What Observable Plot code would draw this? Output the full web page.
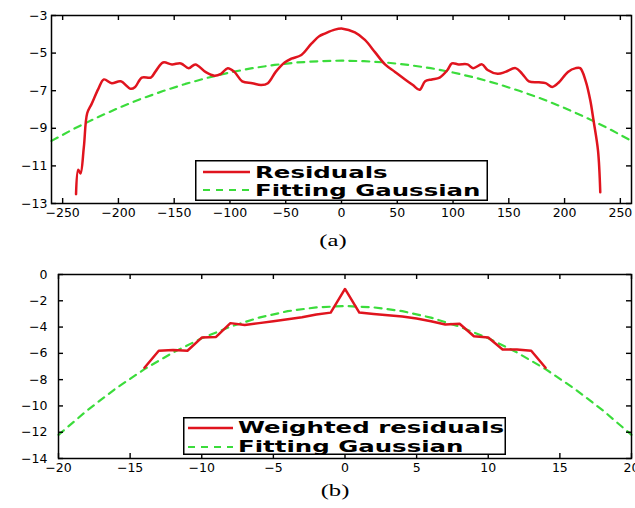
<!DOCTYPE html>
<html><head><meta charset="utf-8">
<script src="https://cdn.jsdelivr.net/npm/d3@7"></script>
<script src="https://cdn.jsdelivr.net/npm/@observablehq/plot@0.6"></script>
<style>
body{margin:0;background:#fff;}
#wrap{position:relative;width:635px;height:508px;overflow:hidden;background:#fff;}
.panel{position:absolute;left:0;}
.ov{position:absolute;}
</style></head>
<body><div id="wrap"></div>
<script>
// ---- Panel (a) data ----
const resX = [-238,-236,-234,-231,-228,-224,-218,-213,-206,-198,-189,-185,-179,-171,-167,-160,-152,-144,-137,-131,-122,-114,-108,-102,-96,-89,-80,-72,-66,-59,-51,-45,-36,-27,-20,-15,-6,1,12,21,30,39,48,57,64,70,75,81,88,95,99,105,113,118,126,131,140,147,156,162,168,177,183,189,195,203,210,214,219,223,226,230,232];
const resY = [-12.5,-11.2,-11.4,-10.0,-8.2,-7.7,-6.9,-6.4,-6.6,-6.5,-6.9,-6.8,-6.3,-6.3,-6.0,-5.5,-5.6,-5.55,-5.8,-5.6,-6.0,-6.2,-6.1,-5.8,-6.0,-6.5,-6.6,-6.7,-6.6,-6.0,-5.5,-5.3,-5.1,-4.5,-4.1,-3.96,-3.75,-3.7,-3.9,-4.3,-4.95,-5.6,-6.0,-6.4,-6.7,-6.95,-6.5,-6.4,-6.3,-5.9,-5.55,-5.6,-5.6,-5.8,-5.6,-5.9,-6.1,-6.0,-5.8,-6.1,-6.5,-6.55,-6.6,-6.8,-6.55,-6.0,-5.8,-5.8,-6.5,-7.5,-8.6,-10.2,-12.4];
const fitAX = [-260,-240,-220,-200,-180,-160,-140,-120,-100,-80,-60,-40,-20,0,20,40,60,80,100,120,140,160,180,200,220,240,260];
const fitAY = [-9.67,-9.03,-8.45,-7.92,-7.44,-7.02,-6.64,-6.31,-6.03,-5.80,-5.63,-5.50,-5.43,-5.40,-5.43,-5.50,-5.63,-5.80,-6.03,-6.31,-6.64,-7.02,-7.44,-7.92,-8.45,-9.03,-9.67];
const xTicksA = [-250,-200,-150,-100,-50,0,50,100,150,200,250];
const yTicksA = [-3,-5,-7,-9,-11,-13];

// ---- Panel (b) data ----
const wX = [-14,-13,-12,-11,-10,-9,-8,-7,-6,-5,-4,-3,-2,-1,0,1,2,3,4,5,6,7,8,9,10,11,12,13,14];
const wY = [-7.1,-5.8,-5.75,-5.8,-4.8,-4.75,-3.7,-3.85,-3.7,-3.55,-3.4,-3.25,-3.05,-2.9,-1.1,-2.9,-3.0,-3.1,-3.2,-3.35,-3.55,-3.8,-3.75,-4.7,-4.8,-5.7,-5.7,-5.8,-7.1];
const fitBX = [-20,-18,-16,-14,-12,-10,-8,-6,-4,-2,0,2,4,6,8,10,12,14,16,18,20];
const fitBY = [-12.2,-10.34,-8.67,-7.2,-5.93,-4.85,-3.97,-3.28,-2.79,-2.5,-2.4,-2.5,-2.79,-3.28,-3.97,-4.85,-5.93,-7.2,-8.67,-10.34,-12.2];
const xTicksB = [-20,-15,-10,-5,0,5,10,15,20];
const yTicksB = [0,-2,-4,-6,-8,-10,-12,-14];

const legendA = ["Residuals","Fitting Gaussian"];
const legendB = ["Weighted residuals","Fitting Gaussian"];
const captions = ["(a)","(b)"];

const RED = "#e0141e", GREEN = "#3bdc3b";
const zip = (xs, ys) => xs.map((x, i) => ({x, y: ys[i]}));
const T = 5; // inward tick length in px

function panel({res, fit, xd, yd, xt, yt, height, mt, mb, ml, mr, ypad, curve}) {
  const ih = height - mt - mb, iw = 635 - ml - mr;
  // tick length converted to data units through the scale extents
  const dy = (yd[1] - yd[0]) * T / ih, dx = (xd[1] - xd[0]) * T / iw;
  const tk = {stroke: "#000", strokeWidth: 1.4};
  return Plot.plot({
    width: 635, height,
    marginTop: mt, marginBottom: mb, marginLeft: ml, marginRight: mr,
    x: {domain: xd}, y: {domain: yd},
    style: {fontFamily: "DejaVu Sans", fontSize: "12.5px", color: "#000", background: "transparent"},
    marks: [
      Plot.line(fit, {x: "x", y: "y", stroke: GREEN, strokeWidth: 2.2, strokeDasharray: "7,6"}),
      Plot.line(res, {x: "x", y: "y", stroke: RED, strokeWidth: 2.5, curve}),
      Plot.frame({stroke: "#000", strokeWidth: 1.5}),
      // inward ticks on all four sides
      Plot.ruleX(xt, {x: d => d, y1: yd[0], y2: yd[0] + dy, ...tk}),
      Plot.ruleX(xt, {x: d => d, y1: yd[1], y2: yd[1] - dy, ...tk}),
      Plot.ruleY(yt, {y: d => d, x1: xd[0], x2: xd[0] + dx, ...tk}),
      Plot.ruleY(yt, {y: d => d, x1: xd[1], x2: xd[1] - dx, ...tk}),
      Plot.axisX({ticks: xt, anchor: "bottom", tickSize: 0, tickPadding: 5, label: null}),
      Plot.axisY({ticks: yt, anchor: "left", tickSize: 0, tickPadding: ypad, label: null})
    ]
  });
}

const wrap = document.getElementById("wrap");

const pa = panel({res: zip(resX, resY), fit: zip(fitAX, fitAY), xd: [-260, 260], yd: [-13, -3],
  xt: xTicksA, yt: yTicksA, height: 225, mt: 15, mb: 22, ml: 51, mr: 4, ypad: 4, curve: "catmull-rom"});
pa.classList.add("panel"); pa.style.top = "0px";
wrap.appendChild(pa);

const pb = panel({res: zip(wX, wY), fit: zip(fitBX, fitBY), xd: [-20, 20], yd: [-14, 0],
  xt: xTicksB, yt: yTicksB, height: 230, mt: 24, mb: 22, ml: 58, mr: 4, ypad: 11, curve: "linear"});
pb.classList.add("panel"); pb.style.top = "250px";
wrap.appendChild(pb);

function legend(labels, left, top, w, h, y1, y2, lx0, lx1, tx, b1, b2) {
  const svg = d3.create("svg").attr("class", "ov").attr("width", w).attr("height", h)
    .style("left", left + "px").style("top", top + "px");
  svg.append("rect").attr("x", 0.75).attr("y", 0.75).attr("width", w - 1.5).attr("height", h - 1.5)
    .attr("fill", "#fff").attr("stroke", "#000").attr("stroke-width", 1.5);
  svg.append("line").attr("x1", lx0).attr("x2", lx1).attr("y1", y1).attr("y2", y1)
    .attr("stroke", RED).attr("stroke-width", 2.5);
  svg.append("line").attr("x1", lx0).attr("x2", lx1).attr("y1", y2).attr("y2", y2)
    .attr("stroke", GREEN).attr("stroke-width", 2.2).attr("stroke-dasharray", "7,6");
  [b1, b2].forEach((b, i) => {
    svg.append("text").attr("transform", `translate(${tx},${b}) scale(1.63,1)`)
      .attr("font-family", "DejaVu Sans").attr("font-weight", "bold").attr("font-size", 15)
      .attr("fill", "#000").text(labels[i]);
  });
  wrap.appendChild(svg.node());
}
legend(legendA, 195, 160, 293, 41, 12, 30, 8, 55, 60, 18, 36);
legend(legendB, 183, 417, 323, 38, 11, 30, 5, 50, 55, 16, 35);

function caption(txt, cx, base) {
  const svg = d3.create("svg").attr("class", "ov").attr("width", 80).attr("height", 24)
    .style("left", (cx - 40) + "px").style("top", (base - 18) + "px");
  svg.append("text").attr("transform", "translate(40,18) scale(1.45,1)")
    .attr("text-anchor", "middle").attr("font-family", "Liberation Serif")
    .attr("font-size", 17).attr("fill", "#000").text(txt);
  wrap.appendChild(svg.node());
}
caption(captions[0], 333, 246);
caption(captions[1], 335, 496);
</script></body></html>
